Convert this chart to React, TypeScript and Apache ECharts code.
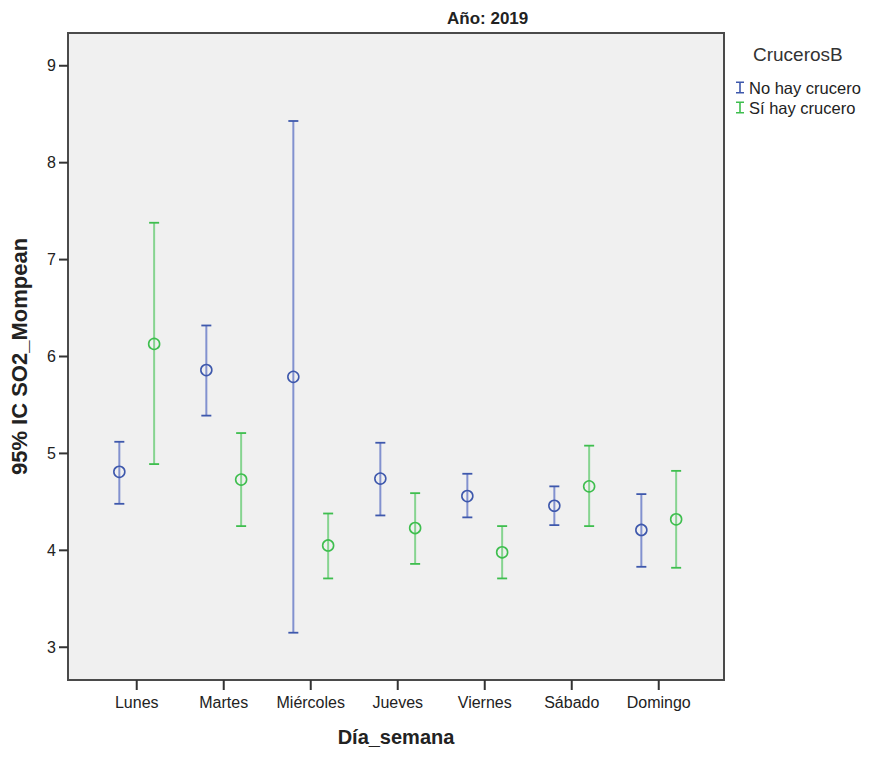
import React, { useEffect, useRef } from "react";
import * as echarts from "echarts";

const days = ["Lunes", "Martes", "Miércoles", "Jueves", "Viernes", "Sábado", "Domingo"];
const dayPositions = [0, 1, 2, 3, 4, 5, 6];
const yTicks = [3, 4, 5, 6, 7, 8, 9];
const X_MIN = -0.79;
const X_MAX = 6.75;
const Y_MIN = 2.662;
const Y_MAX = 9.338;

// [low, mean, high] per day
const noCrucero = [
  [4.48, 4.81, 5.12],
  [5.39, 5.86, 6.32],
  [3.15, 5.79, 8.43],
  [4.36, 4.74, 5.11],
  [4.34, 4.56, 4.79],
  [4.26, 4.46, 4.66],
  [3.83, 4.21, 4.58],
];
const siCrucero = [
  [4.89, 6.13, 7.38],
  [4.25, 4.73, 5.21],
  [3.71, 4.05, 4.38],
  [3.86, 4.23, 4.59],
  [3.71, 3.98, 4.25],
  [4.25, 4.66, 5.08],
  [3.82, 4.32, 4.82],
];

const BLUE = "#3E58AC";
const BLUE_LINE = "#8291cf";
const GREEN = "#3EBE4E";
const GREEN_LINE = "#86d490";
const TICK = "#333333";

const FONT = "'Liberation Sans', Arial, sans-serif";

const GRID = { left: 67, top: 33, right: 147, bottom: 78 };
const W = 871;
const H = 758;

function makeSeries(name: string, vals: number[][], offset: number, color: string, lineColor: string) {
  return {
    type: "custom",
    name,
    itemStyle: { color },
    data: vals.map((v, i) => [i + offset, v[0], v[1], v[2]]),
    encode: { x: 0, y: [1, 2, 3] },
    renderItem: (params: any, api: any) => {
      const x = api.value(0);
      const lo = api.coord([x, api.value(1)]);
      const m = api.coord([x, api.value(2)]);
      const hi = api.coord([x, api.value(3)]);
      const cw = 5;
      return {
        type: "group",
        children: [
          { type: "line", shape: { x1: hi[0], y1: hi[1], x2: lo[0], y2: lo[1] }, style: { stroke: lineColor, lineWidth: 2 } },
          { type: "line", shape: { x1: hi[0] - cw, y1: hi[1], x2: hi[0] + cw, y2: hi[1] }, style: { stroke: color, lineWidth: 1.8 } },
          { type: "line", shape: { x1: lo[0] - cw, y1: lo[1], x2: lo[0] + cw, y2: lo[1] }, style: { stroke: color, lineWidth: 1.8 } },
          { type: "circle", shape: { cx: m[0], cy: m[1], r: 5.5 }, style: { fill: "none", stroke: color, lineWidth: 1.6 } },
        ],
      };
    },
  };
}

export default function App() {
  const ref = useRef<HTMLDivElement>(null);
  useEffect(() => {
    if (!ref.current) return;
    const chart = echarts.init(ref.current, undefined, { renderer: "svg" });
    const ibeam = "path://M0,0 H8 V1.5 H4.8 V10.5 H8 V12 H0 V10.5 H3.2 V1.5 H0 Z";
    chart.setOption({
      animation: false,
      backgroundColor: "#ffffff",
      textStyle: { fontFamily: FONT },
      title: [
        { text: "Año: 2019", left: 442, top: 5, textStyle: { fontFamily: FONT, fontSize: 17, fontWeight: "bold", color: "#222" } },
        { text: "CrucerosB", left: 748, top: 40, textStyle: { fontFamily: FONT, fontSize: 19, fontWeight: "normal", color: "#333" } },
      ],
      legend: {
        orient: "vertical",
        left: 731,
        top: 74,
        itemWidth: 8,
        itemHeight: 12,
        itemGap: 3,
        icon: ibeam,
        textStyle: { fontFamily: FONT, fontSize: 16.5, color: "#222", padding: [0, 0, 0, 0] },
        data: [
          { name: "No hay crucero", icon: ibeam, itemStyle: { color: BLUE } },
          { name: "Sí hay crucero", icon: ibeam, itemStyle: { color: GREEN } },
        ],
      },
      grid: {
        left: GRID.left,
        top: GRID.top,
        right: GRID.right,
        bottom: GRID.bottom,
        show: true,
        backgroundColor: "#f0f0f0",
        borderColor: "#4a4a4a",
        borderWidth: 2,
      },
      xAxis: {
        type: "value",
        min: X_MIN,
        max: X_MAX,
        name: "Día_semana",
        nameLocation: "middle",
        nameGap: 47,
        nameTextStyle: { fontFamily: FONT, fontSize: 20, fontWeight: "bold", color: "#222" },
        axisLine: { show: false, onZero: false },
        splitLine: { show: false },
        axisTick: { show: false },
        axisLabel: {
          customValues: dayPositions,
          formatter: (v: number) => days[Math.round(v)] ?? "",
          fontFamily: FONT,
          fontSize: 16,
          color: "#222",
          margin: 14,
        },
      },
      yAxis: {
        type: "value",
        min: Y_MIN,
        max: Y_MAX,
        name: "95% IC SO2_Mompean",
        nameLocation: "middle",
        nameGap: 38,
        nameTextStyle: { fontFamily: FONT, fontSize: 22, fontWeight: "bold", color: "#222" },
        axisLine: { show: false, onZero: false },
        splitLine: { show: false },
        axisTick: { show: false },
        axisLabel: {
          customValues: yTicks,
          formatter: (v: number) => String(v),
          fontFamily: FONT,
          fontSize: 16,
          color: "#222",
          margin: 12,
        },
      },
      series: [
        makeSeries("No hay crucero", noCrucero, -0.2, BLUE, BLUE_LINE),
        makeSeries("Sí hay crucero", siCrucero, 0.2, GREEN, GREEN_LINE),
      ],
    });

    // Tick marks: position via the chart's scale (series finder), falling back to the grid's linear mapping
    const gw = W - GRID.left - GRID.right;
    const gh = H - GRID.top - GRID.bottom;
    const toPx = (x: number, y: number): number[] => {
      let p: any = null;
      try {
        p = chart.convertToPixel({ seriesIndex: 0 }, [x, y]);
      } catch (e) {
        p = null;
      }
      if (!p || !isFinite(p[0]) || !isFinite(p[1])) {
        p = [
          GRID.left + ((x - X_MIN) / (X_MAX - X_MIN)) * gw,
          GRID.top + ((Y_MAX - y) / (Y_MAX - Y_MIN)) * gh,
        ];
      }
      return p;
    };
    const tickEls: any[] = [];
    dayPositions.forEach((v) => {
      const p = toPx(v, Y_MIN);
      tickEls.push({ type: "rect", z: 100, zlevel: 0, shape: { x: p[0] - 1, y: p[1], width: 2, height: 10 }, style: { fill: TICK } });
    });
    yTicks.forEach((v) => {
      const p = toPx(X_MIN, v);
      tickEls.push({ type: "rect", z: 100, zlevel: 0, shape: { x: p[0] - 9, y: p[1] - 1, width: 9, height: 2 }, style: { fill: TICK } });
    });
    chart.setOption({ graphic: tickEls });

    return () => chart.dispose();
  }, []);
  return <div ref={ref} style={{ width: W, height: H, margin: -8 }} />;
}
